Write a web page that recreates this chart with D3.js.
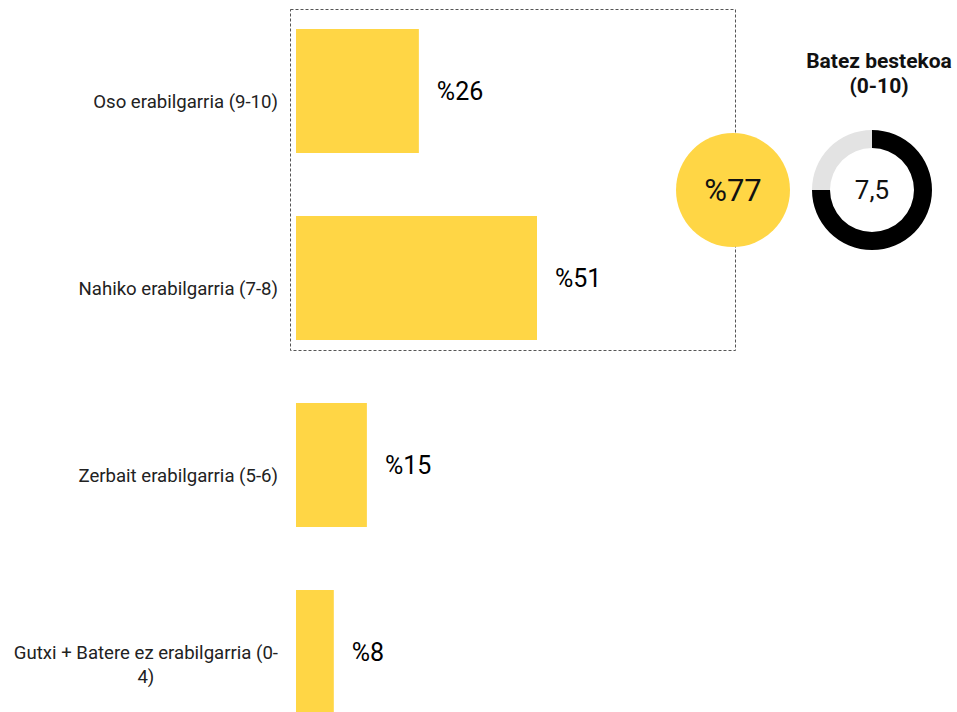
<!DOCTYPE html>
<html>
<head>
<meta charset="utf-8">
<script src="https://cdn.jsdelivr.net/npm/d3@7"></script>
<style>
body { margin: 0; background: #fff; }
text { font-family: Roboto, "Noto Sans", sans-serif; }
</style>
</head>
<body>
<div id="chart"></div>
<script>
var svgWidth = 957;
var svgHeight = 712;

// data
var categories = ["Oso erabilgarria (9-10)", "Nahiko erabilgarria (7-8)", "Zerbait erabilgarria (5-6)", "Gutxi + Batere ez erabilgarria (0-4)"];
var values = [26, 51, 15, 8];
var valueLabels = ["%26", "%51", "%15", "%8"];
var totalLabel = "%77";
var meanValue = 7.5;
var meanMax = 10;
var meanLabel = "7,5";
var meanTitle = ["Batez bestekoa", "(0-10)"];

var svg = d3.select("#chart")
    .append("svg")
    .attr("width", svgWidth)
    .attr("height", svgHeight);

var x = d3.scaleLinear().domain([0, 51]).range([296, 537]);
var y = d3.scaleBand().domain(categories).range([-2.5, 745.5]).paddingInner(0.337).paddingOuter(0.1685);

// dashed box around first two bars
svg.append("rect")
    .attr("x", 290.5)
    .attr("y", 9.5)
    .attr("width", 445)
    .attr("height", 341)
    .attr("fill", "none")
    .attr("stroke", "#555")
    .attr("stroke-width", 1)
    .attr("stroke-dasharray", "3,2");

svg.selectAll("rect.bar")
    .data(values)
    .enter()
    .append("rect")
    .attr("class", "bar")
    .attr("x", x(0))
    .attr("y", (d, i) => y(categories[i]))
    .attr("width", d => x(d) - x(0))
    .attr("height", y.bandwidth())
    .attr("fill", "#ffd645");

svg.selectAll("text.val")
    .data(values)
    .enter()
    .append("text")
    .attr("class", "val")
    .attr("x", d => x(d) + 18)
    .attr("y", (d, i) => y(categories[i]) + y.bandwidth() / 2)
    .attr("dy", "0.35em")
    .attr("font-size", "25px")
    .attr("fill", "#000")
    .text((d, i) => valueLabels[i]);

// category labels, wrapped (block right aligned, lines centred)
var labelSize = "18.6px";
function textWidth(s) {
    var tmp = svg.append("text").attr("font-size", labelSize).text(s);
    var w = tmp.node().getComputedTextLength();
    tmp.remove();
    return w;
}
function wrapWords(text, maxW) {
    var words = text.split(" "), lines = [], line = "";
    words.forEach(function(w) {
        var test = line ? line + " " + w : w;
        if (textWidth(test) > maxW && line) {
            var parts = w.split("-");
            if (parts.length > 1) {
                var withHead = line + " " + parts[0] + "-";
                if (textWidth(withHead) <= maxW) {
                    lines.push(withHead);
                    line = parts.slice(1).join("-");
                    return;
                }
            }
            lines.push(line);
            line = w;
        } else {
            line = test;
        }
    });
    lines.push(line);
    return lines;
}

categories.forEach(function(c) {
    var lines = wrapWords(c, 268);
    var n = lines.length;
    var maxW = d3.max(lines, textWidth);
    var cy = y(c) + y.bandwidth() / 2;
    var t = svg.append("text")
        .attr("text-anchor", "middle")
        .attr("font-size", labelSize)
        .attr("fill", "#222");
    lines.forEach(function(l, i) {
        t.append("tspan")
            .attr("x", 278 - maxW / 2)
            .attr("y", cy + 17 + (i - (n - 1) / 2) * 24 + (n - 1) * 2)
            .text(l);
    });
});

// total circle
svg.append("circle")
    .attr("cx", 733)
    .attr("cy", 190)
    .attr("r", 57)
    .attr("fill", "#ffd645");
svg.append("text")
    .attr("x", 733)
    .attr("y", 190)
    .attr("dy", "0.35em")
    .attr("text-anchor", "middle")
    .attr("font-size", "31px")
    .attr("fill", "#111")
    .text(totalLabel);

// mean donut
var donut = svg.append("g").attr("transform", "translate(872,190)");
var pie = d3.pie().sort(null).value(d => d);
var arc = d3.arc().innerRadius(42).outerRadius(60);
donut.selectAll("path")
    .data(pie([meanValue, meanMax - meanValue]))
    .enter()
    .append("path")
    .attr("d", arc)
    .attr("fill", (d, i) => i == 0 ? "#000" : "#e3e3e3");
donut.append("text")
    .attr("dy", "0.35em")
    .attr("text-anchor", "middle")
    .attr("font-size", "26px")
    .attr("fill", "#111")
    .text(meanLabel);

svg.append("text")
    .attr("text-anchor", "middle")
    .attr("font-size", "21px")
    .attr("font-weight", "bold")
    .attr("fill", "#111")
    .selectAll("tspan")
    .data(meanTitle)
    .enter()
    .append("tspan")
    .attr("x", 879)
    .attr("y", (d, i) => 68 + i * 25)
    .text(d => d);
</script>
</body>
</html>
